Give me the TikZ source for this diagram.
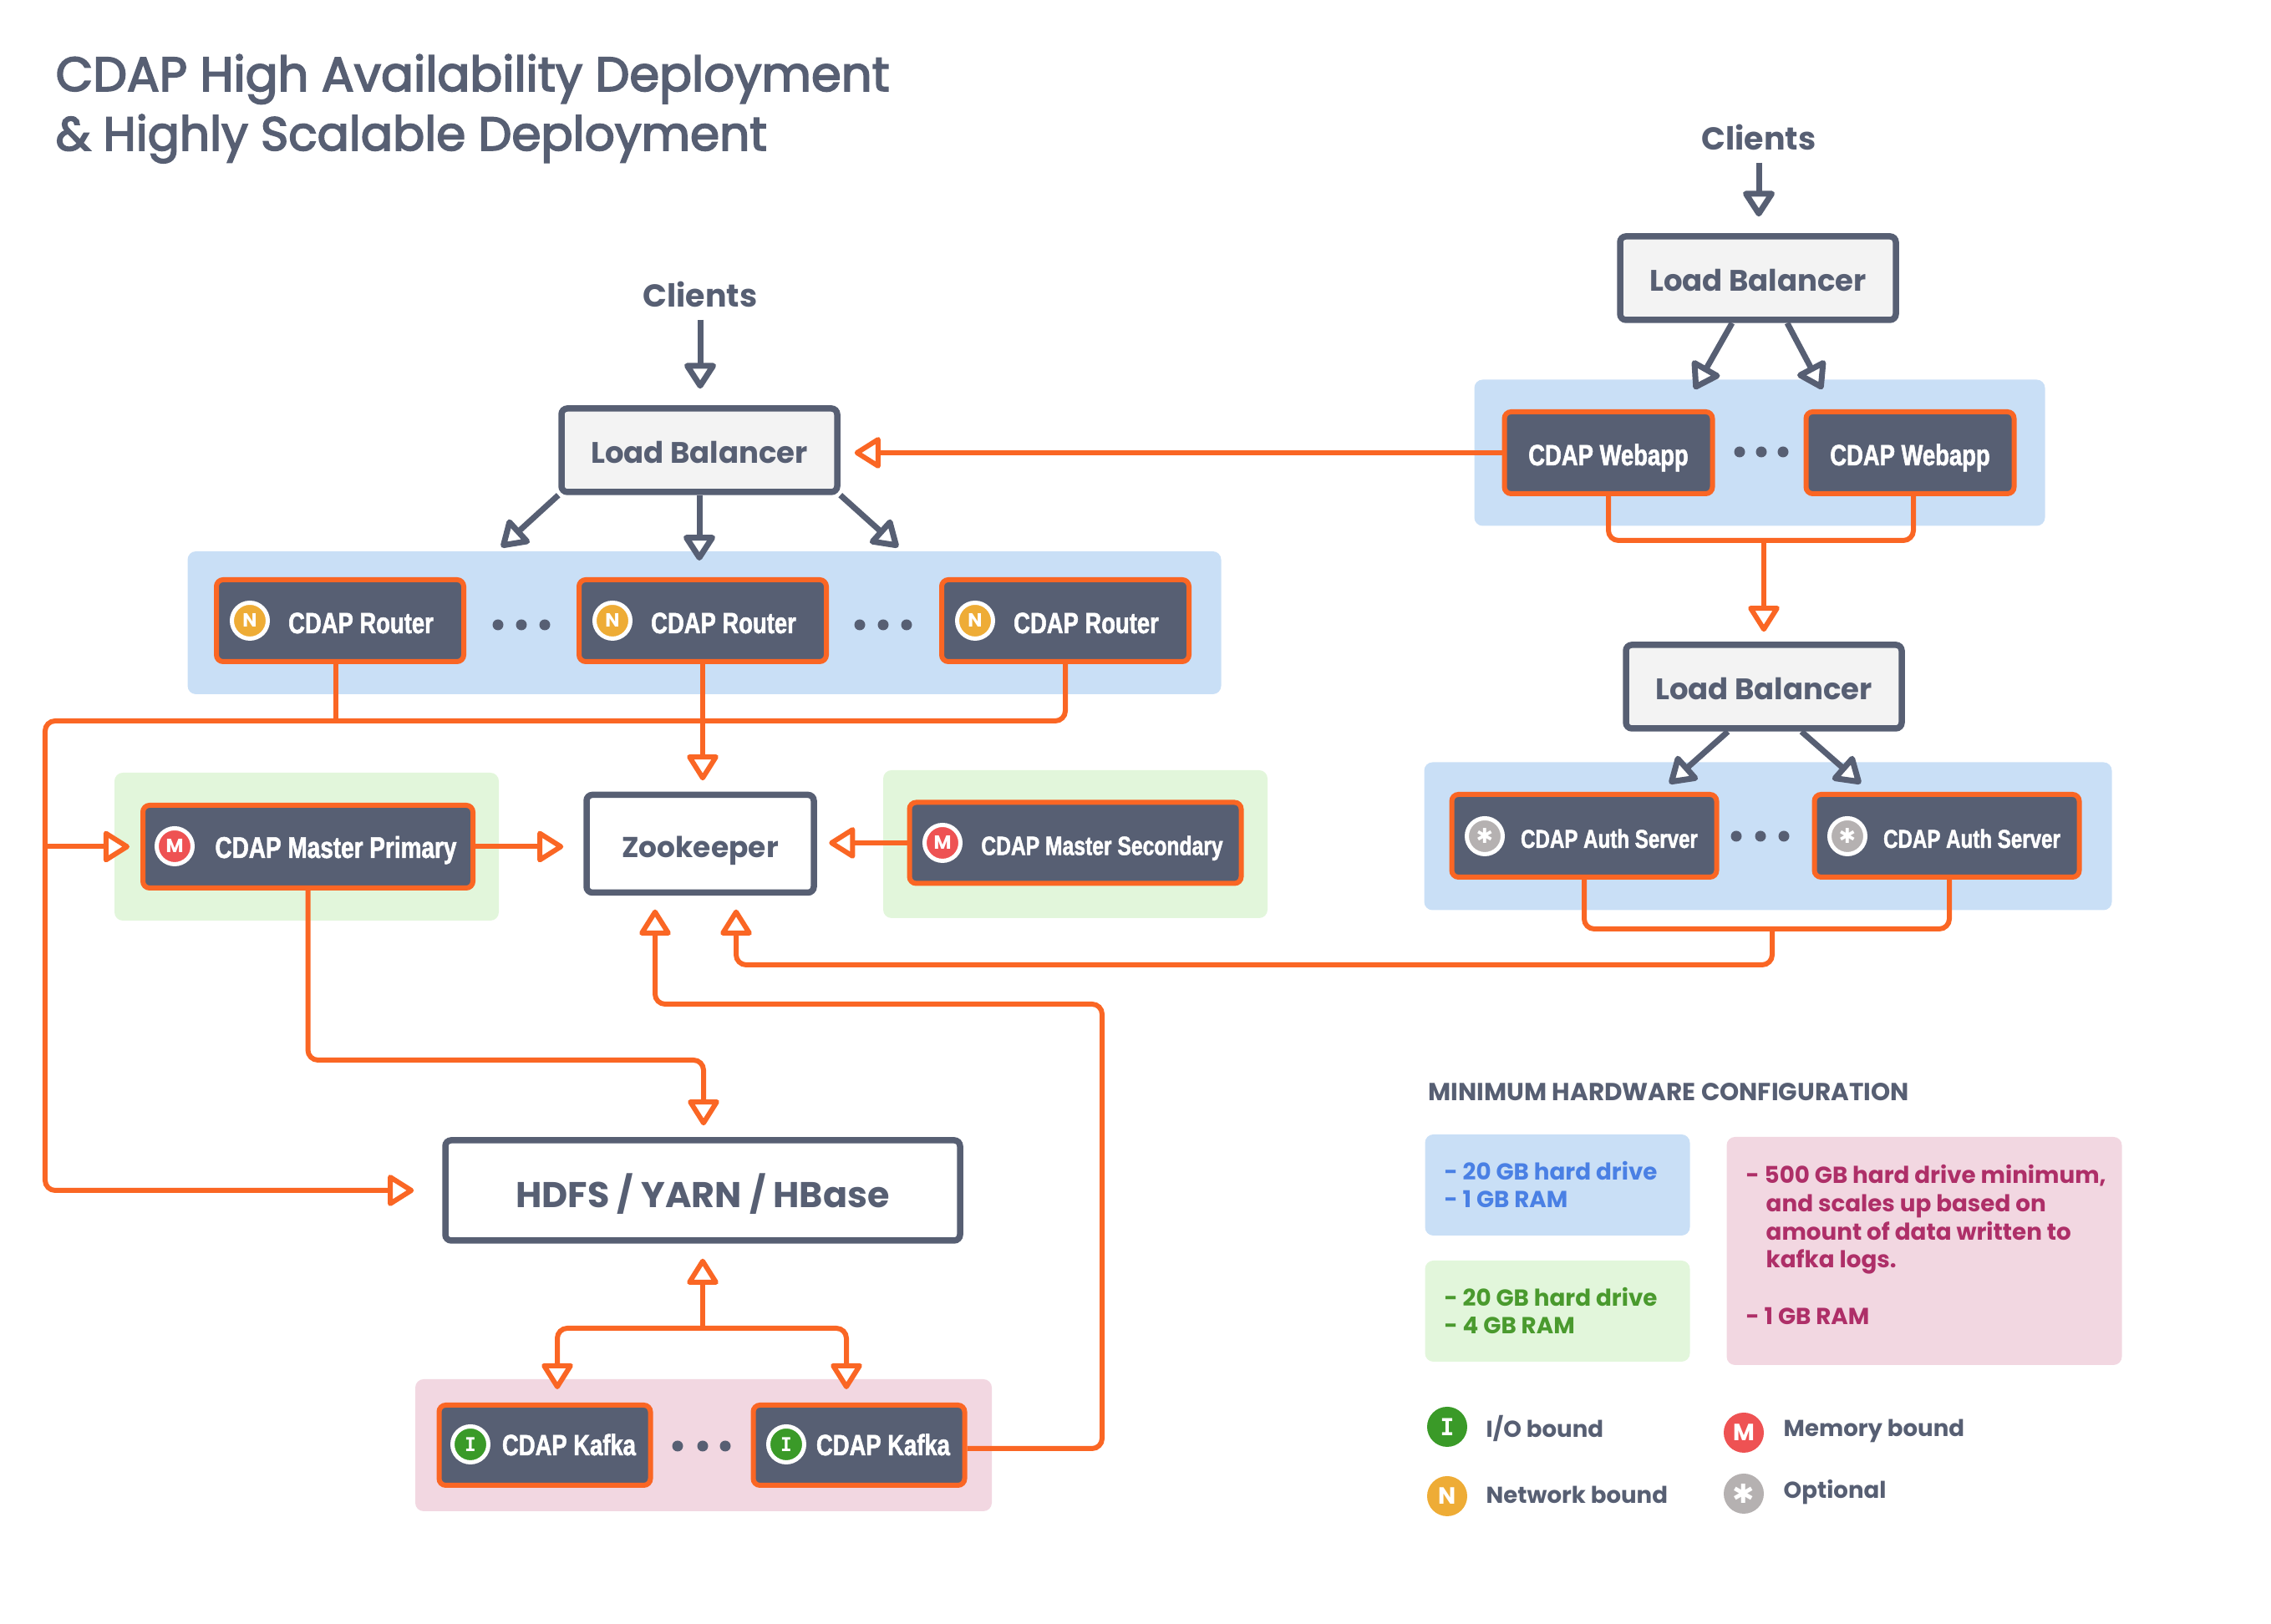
\documentclass[tikz,border=0pt]{standalone}
\usepackage{fontspec}
\usepackage{tikz}
\usepackage{xcolor}
\usetikzlibrary{arrows.meta,calc,positioning,shapes.geometric}
\setmainfont{Poppins}
\newfontfamily\mediumfont[FakeBold=3]{Poppins}
\newfontfamily\boxfont[FakeStretch=0.78,FakeBold=1.5]{Liberation Sans}
\newfontfamily\monofont{DejaVu Sans Mono}
\newfontfamily\symbfont{DejaVu Sans}
\definecolor{slate}{RGB}{87,95,115}
\definecolor{flow}{RGB}{250,102,36}
\definecolor{panelblue}{RGB}{201,223,246}
\definecolor{panelgreen}{RGB}{226,246,219}
\definecolor{panelpink}{RGB}{242,215,225}
\definecolor{lightbox}{RGB}{243,243,243}
\definecolor{badgeyellow}{RGB}{238,172,54}
\definecolor{badgered}{RGB}{238,82,83}
\definecolor{badgegray}{RGB}{181,177,177}
\definecolor{badgegreen}{RGB}{58,154,40}
\definecolor{textblue}{RGB}{74,128,228}
\definecolor{textgreen}{RGB}{74,154,46}
\definecolor{textpink}{RGB}{174,47,104}
\tikzset{
  panel/.style={rounded corners=0.1cm,inner sep=0pt},
  srvbox/.style={draw=flow,fill=slate,rounded corners=0.08cm,line width=0.06cm,text=white,
        inner sep=0pt,text height=0.30cm,text depth=0cm,font=\boxfont\bfseries\fontsize{10}{12}\selectfont},
  plainbox/.style={draw=slate,rounded corners=0.07cm,line width=0.075cm,text=slate,inner sep=0pt,
        text height=0.31cm,text depth=0cm,font=\bfseries\fontsize{10.1}{13}\selectfont},
  badge/.style={circle,draw=white,line width=0.05cm,minimum size=0.43cm,inner sep=0pt,text=white,
        font=\bfseries\fontsize{6.5}{7}\selectfont},
  dotmark/.style={circle,fill=slate,minimum size=0.13cm,inner sep=0pt},
  slatearrow/.style={draw=slate,line width=0.07cm,
        -{Triangle[fill=white,length=0.34cm,width=0.42cm,round]}},
  flowline/.style={draw=flow,line width=0.06cm,rounded corners=0.12cm},
  flowarrow/.style={flowline,-{Triangle[fill=white,length=0.34cm,width=0.41cm,round]}},
  heading/.style={text=slate,font=\bfseries\fontsize{10.8}{13}\selectfont},
  note/.style={anchor=west,align=left,inner sep=0pt,font=\bfseries\fontsize{7.9}{9.6}\selectfont},
  legendtext/.style={anchor=west,inner sep=0pt,text=slate,font=\bfseries\fontsize{7.85}{9}\selectfont}
}
\begin{document}
\begin{tikzpicture}
  \useasboundingbox (0,0) rectangle (27.18,19.44);
  % title
  \node[anchor=base west,inner sep=0pt,text=slate,font=\mediumfont\fontsize{16.4}{20}\selectfont]
        (title1) at (0.66,18.35) {CDAP High Availability Deployment};
  \node[anchor=base west,inner sep=0pt,text=slate,font=\mediumfont\fontsize{16.1}{20}\selectfont]
        (title2) at (0.66,17.64) {\& Highly Scalable Deployment};
  % colored panels
  \node[panel,fill=panelblue,minimum width=6.83cm,minimum height=1.75cm] (webpanel) at (21.06,14.02) {};
  \node[panel,fill=panelblue,minimum width=8.23cm,minimum height=1.77cm] (authpanel) at (21.16,9.43) {};
  \node[panel,fill=panelblue,minimum width=12.37cm,minimum height=1.71cm] (routerpanel) at (8.43,11.985) {};
  \node[panel,fill=panelgreen,minimum width=4.60cm,minimum height=1.77cm] (masterpanel) at (3.67,9.305) {};
  \node[panel,fill=panelgreen,minimum width=4.60cm,minimum height=1.77cm] (secondpanel) at (12.87,9.335) {};
  \node[panel,fill=panelpink,minimum width=6.90cm,minimum height=1.58cm] (kafkapanel) at (8.42,2.14) {};
  % clients and load balancers
  \node[heading] (clientsweb) at (21.05,17.80) {Clients};
  \node[heading] (clientsrouter) at (8.38,15.92) {Clients};
  \node[plainbox,fill=lightbox,minimum width=3.30cm,minimum height=1.0cm] (lbweb) at (21.04,16.11) {Load Balancer};
  \node[plainbox,fill=lightbox,minimum width=3.30cm,minimum height=1.0cm] (lbrouter) at (8.37,14.05) {Load Balancer};
  \node[plainbox,fill=lightbox,minimum width=3.30cm,minimum height=1.0cm] (lbauth) at (21.11,11.22) {Load Balancer};
  % webapps
  \node[srvbox,minimum width=2.49cm,minimum height=0.98cm] (webapp1) at (19.25,14.02) {CDAP Webapp};
  \node[srvbox,minimum width=2.49cm,minimum height=0.98cm] (webapp2) at (22.86,14.02) {CDAP Webapp};
  \node[dotmark] (webdot1) at (20.82,14.03) {};
  \node[dotmark] (webdot2) at (21.08,14.03) {};
  \node[dotmark] (webdot3) at (21.34,14.03) {};
  % routers
  \node[srvbox,minimum width=2.96cm,minimum height=0.98cm] (r1) at (4.07,12.01) {\hspace*{0.5cm}CDAP Router};
  \node[srvbox,minimum width=2.96cm,minimum height=0.98cm] (r2) at (8.41,12.01) {\hspace*{0.5cm}CDAP Router};
  \node[srvbox,minimum width=2.96cm,minimum height=0.98cm] (r3) at (12.75,12.01) {\hspace*{0.5cm}CDAP Router};
  \node[badge,fill=badgeyellow] (r1badge) at (2.99,12.01) {N};
  \node[badge,fill=badgeyellow] (r2badge) at (7.33,12.01) {N};
  \node[badge,fill=badgeyellow] (r3badge) at (11.67,12.01) {N};
  \node[dotmark] (rdot1) at (5.96,11.96) {};
  \node[dotmark] (rdot2) at (6.24,11.96) {};
  \node[dotmark] (rdot3) at (6.52,11.96) {};
  \node[dotmark] (rdot4) at (10.29,11.96) {};
  \node[dotmark] (rdot5) at (10.57,11.96) {};
  \node[dotmark] (rdot6) at (10.85,11.96) {};
  % auth servers
  \node[srvbox,minimum width=3.17cm,minimum height=0.99cm,text height=0.29cm,font=\boxfont\bfseries\fontsize{8.8}{11}\selectfont]
        (auth1) at (18.96,9.435) {\hspace*{0.6cm}CDAP Auth Server};
  \node[srvbox,minimum width=3.17cm,minimum height=0.99cm,text height=0.29cm,font=\boxfont\bfseries\fontsize{8.8}{11}\selectfont]
        (auth2) at (23.30,9.435) {\hspace*{0.6cm}CDAP Auth Server};
  \node[badge,fill=badgegray,font=\symbfont\fontsize{7}{8}\selectfont] (auth1badge) at (17.77,9.43) {✱};
  \node[badge,fill=badgegray,font=\symbfont\fontsize{7}{8}\selectfont] (auth2badge) at (22.11,9.43) {✱};
  \node[dotmark] (authdot1) at (20.78,9.43) {};
  \node[dotmark] (authdot2) at (21.07,9.43) {};
  \node[dotmark] (authdot3) at (21.35,9.43) {};
  % masters and zookeeper
  \node[srvbox,minimum width=3.95cm,minimum height=0.99cm,text height=0.27cm,font=\boxfont\bfseries\fontsize{10.2}{12}\selectfont]
        (master) at (3.685,9.305) {\hspace*{0.67cm}CDAP Master Primary};
  \node[srvbox,minimum width=3.97cm,minimum height=0.97cm,text height=0.29cm,font=\boxfont\bfseries\fontsize{9}{11}\selectfont]
        (second) at (12.87,9.35) {\hspace*{0.64cm}CDAP Master Secondary};
  \node[badge,fill=badgered] (masterbadge) at (2.09,9.31) {M};
  \node[badge,fill=badgered] (secondbadge) at (11.28,9.35) {M};
  \node[plainbox,fill=white,minimum width=2.72cm,minimum height=1.17cm,text height=0.34cm,font=\bfseries\fontsize{9.8}{13}\selectfont] (zoo) at (8.38,9.34) {Zookeeper};
  % hdfs and kafka
  \node[plainbox,fill=white,minimum width=6.16cm,minimum height=1.20cm,text height=0.42cm,font=\bfseries\fontsize{12.2}{15}\selectfont]
        (hdfs) at (8.41,5.19) {HDFS / YARN / HBase};
  \node[srvbox,minimum width=2.53cm,minimum height=0.96cm,text height=0.24cm] (k1) at (6.52,2.14) {\hspace*{0.58cm}CDAP Kafka};
  \node[srvbox,minimum width=2.53cm,minimum height=0.96cm,text height=0.24cm] (k2) at (10.28,2.14) {\hspace*{0.58cm}CDAP Kafka};
  \node[badge,fill=badgegreen,font=\monofont\bfseries\fontsize{6.5}{7}\selectfont] (k1badge) at (5.63,2.15) {I};
  \node[badge,fill=badgegreen,font=\monofont\bfseries\fontsize{6.5}{7}\selectfont] (k2badge) at (9.41,2.15) {I};
  \node[dotmark] (kdot1) at (8.11,2.13) {};
  \node[dotmark] (kdot2) at (8.41,2.13) {};
  \node[dotmark] (kdot3) at (8.68,2.13) {};
  % bend points
  \coordinate (busleft) at (0.54,10.81);
  \coordinate (webjoin) at (21.11,12.97);
  \coordinate (authjoin) at (21.21,8.32);
  \coordinate (zooright) at (8.81,7.89);
  \coordinate (zooleft) at (7.84,7.42);
  \coordinate (kafkabend) at (13.19,7.42);
  \coordinate (masterbend) at (8.42,6.75);
  \coordinate (kafkajoin) at (8.41,3.54);
  % grey arrows
  \draw[slatearrow,shorten <=0.03cm,shorten >=0.2cm] (clientsweb.south) -- (clientsweb.south |- lbweb.north);
  \draw[slatearrow,shorten <=0.03cm,shorten >=0.2cm] (clientsrouter.south) -- (clientsrouter.south |- lbrouter.north);
  \draw[slatearrow] ([xshift=-0.31cm]lbweb.south) -- ([xshift=1.03cm,yshift=0.24cm]webapp1.north);
  \draw[slatearrow] ([xshift=0.35cm]lbweb.south) -- ([xshift=-1.05cm,yshift=0.24cm]webapp2.north);
  \draw[slatearrow] (lbrouter.south west) -- ([xshift=1.93cm,yshift=0.36cm]r1.north);
  \draw[slatearrow,shorten >=0.20cm] (lbrouter.south) -- (lbrouter.south |- r2.north);
  \draw[slatearrow] (lbrouter.south east) -- ([xshift=-2.00cm,yshift=0.36cm]r3.north);
  \draw[slatearrow] ([xshift=-0.43cm]lbauth.south) -- ([xshift=1.02cm,yshift=0.10cm]auth1.north);
  \draw[slatearrow] ([xshift=0.45cm]lbauth.south) -- ([xshift=-1.03cm,yshift=0.10cm]auth2.north);
  % orange connectors
  \draw[flowarrow,shorten >=0.17cm] (webapp1.west) -- (webapp1.west -| lbrouter.east);
  \draw[flowline] (webapp1.south) |- (webjoin) -| ([xshift=0.04cm]webapp2.south);
  \draw[flowarrow,shorten >=0.12cm] (webjoin) -- (lbauth.north);
  \draw[flowline] ([xshift=-0.05cm]r1.south) -- ([xshift=-0.05cm]r1.south |- busleft);
  \draw[flowarrow,shorten >=0.34cm] (r3.south) |- (busleft) |- (hdfs.west);
  \draw[flowarrow,shorten >=0.13cm] (busleft |- master.west) -- (master.west);
  \draw[flowarrow,shorten >=0.135cm] (r2.south) -- (r2.south |- zoo.north);
  \draw[flowarrow,shorten >=0.24cm] (master.east) -- (master.east -| zoo.west);
  \draw[flowarrow,shorten >=0.145cm] (second.west) -- (second.west -| zoo.east);
  \draw[flowarrow,shorten >=0.14cm] (master.south) |- (masterbend) -- (masterbend |- hdfs.north);
  \draw[flowline] (auth1.south) |- (authjoin) -| ([xshift=0.03cm]auth2.south);
  \draw[flowarrow,shorten >=0.165cm] (authjoin) |- (zooright) -- (zooright |- zoo.south);
  \draw[flowarrow,shorten >=0.165cm] ([yshift=-0.04cm]k2.east) -| (kafkabend) -- (zooleft) -- (zooleft |- zoo.south);
  \draw[flowarrow,shorten >=0.18cm] (kafkajoin) -- (kafkajoin |- hdfs.south);
  \draw[flowarrow,shorten >=0.16cm] (kafkajoin) -| ([xshift=0.15cm]k1.north);
  \draw[flowarrow,shorten >=0.16cm] (kafkajoin) -| ([xshift=-0.15cm]k2.north);
  % hardware legend
  \node[anchor=base west,inner sep=0pt,text=slate,font=\bfseries\fontsize{8.4}{9}\selectfont]
        (hwtitle) at (17.09,6.26) {MINIMUM HARDWARE CONFIGURATION};
  \node[panel,fill=panelblue,minimum width=3.17cm,minimum height=1.21cm] (hwblue) at (18.64,5.255) {};
  \node[panel,fill=panelgreen,minimum width=3.17cm,minimum height=1.21cm] (hwgreen) at (18.64,3.745) {};
  \node[panel,fill=panelpink,minimum width=4.73cm,minimum height=2.73cm] (hwpink) at (23.03,4.465) {};
  \node[note,text=textblue] (hwbluetext) at (17.28,5.26) {- 20 GB hard drive\\- 1 GB RAM};
  \node[note,text=textgreen] (hwgreentext) at (17.28,3.75) {- 20 GB hard drive\\- 4 GB RAM};
  \node[note,text=textpink] (hwpinktext) at (20.89,4.54)
        {- 500 GB hard drive minimum,\\\hspace*{0.24cm}and scales up based on\\\hspace*{0.24cm}amount of data written to\\\hspace*{0.24cm}kafka logs.\\[0.338cm]- 1 GB RAM};
  % badge legend
  \node[badge,fill=badgegreen,draw=none,minimum size=0.48cm,font=\monofont\bfseries\fontsize{8}{9}\selectfont] (keyio) at (17.32,2.36) {I};
  \node[badge,fill=badgeyellow,draw=none,minimum size=0.48cm,font=\bfseries\fontsize{8}{9}\selectfont] (keynet) at (17.32,1.53) {N};
  \node[badge,fill=badgered,draw=none,minimum size=0.48cm,font=\bfseries\fontsize{8}{9}\selectfont] (keymem) at (20.87,2.29) {M};
  \node[badge,fill=badgegray,draw=none,minimum size=0.48cm,font=\symbfont\fontsize{9}{10}\selectfont] (keyopt) at (20.87,1.56) {✱};
  \node[legendtext] (keyiotext) at (17.78,2.34) {I/O bound};
  \node[legendtext] (keynettext) at (17.78,1.55) {Network bound};
  \node[legendtext] (keymemtext) at (21.34,2.31) {Memory bound};
  \node[legendtext] (keyopttext) at (21.34,1.58) {Optional};
\end{tikzpicture}
\end{document}
